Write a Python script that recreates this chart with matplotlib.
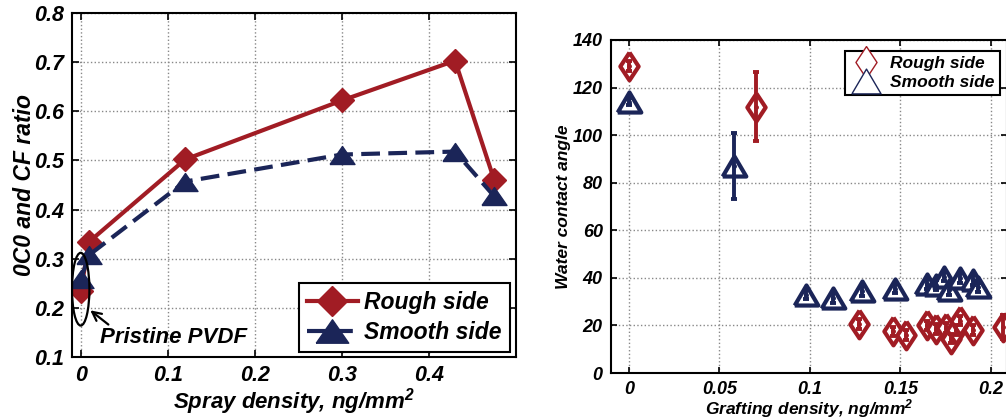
import matplotlib
matplotlib.use("Agg")
import matplotlib.pyplot as plt
from matplotlib.patches import Ellipse
from matplotlib.lines import Line2D
import numpy as np

# ---------------- data ----------------
# Left panel: O/C and C/F ratio vs spray density
spray_x = [0.0, 0.01, 0.12, 0.30, 0.43, 0.475]
rough_ratio = [0.235, 0.335, 0.502, 0.622, 0.703, 0.46]
smooth_x = [0.0, 0.01, 0.12, 0.30, 0.43, 0.475]
smooth_ratio = [0.258, 0.308, 0.457, 0.512, 0.518, 0.427]
left_xticks = [0, 0.1, 0.2, 0.3, 0.4]
left_xticklabels = ["0", "0.1", "0.2", "0.3", "0.4"]
left_yticks = [0.1, 0.2, 0.3, 0.4, 0.5, 0.6, 0.7, 0.8]

# Right panel: water contact angle vs grafting density
rough_gx = [0.0, 0.070, 0.127, 0.146, 0.153, 0.165, 0.170, 0.175, 0.178, 0.181, 0.183, 0.190, 0.207]
rough_wca = [129, 112, 20.5, 17.5, 16, 20, 18.5, 19, 14.5, 18, 22, 18, 19.5]
rough_err = [2, 14.5, 2, 2, 2, 2, 2, 2, 2, 2, 2, 2, 5]
smooth_gx = [0.0, 0.058, 0.098, 0.113, 0.129, 0.147, 0.165, 0.170, 0.174, 0.177, 0.183, 0.190, 0.193]
smooth_wca = [114, 87, 33, 31.5, 34.5, 35.5, 37.5, 37, 40.5, 35, 40, 39, 36]
smooth_err = [1.5, 14, 2, 2, 2, 2, 2, 2, 2, 2, 2, 2, 2]
right_xticks = [0, 0.05, 0.1, 0.15, 0.2]
right_xticklabels = ["0", "0.05", "0.1", "0.15", "0.2"]
right_yticks = [0, 20, 40, 60, 80, 100, 120, 140]

RED = "#a11c24"
NAVY = "#1b2558"
FONT = "Liberation Sans"

plt.rcParams["font.family"] = [FONT, "DejaVu Sans"]
plt.rcParams["font.weight"] = "bold"
plt.rcParams["font.style"] = "italic"
plt.rcParams["axes.labelweight"] = "bold"
plt.rcParams["mathtext.fontset"] = "custom"
plt.rcParams["mathtext.rm"] = "Liberation Sans:bold:italic"
plt.rcParams["mathtext.it"] = "Liberation Sans:bold:italic"
plt.rcParams["mathtext.bf"] = "Liberation Sans:bold:italic"

fig = plt.figure(figsize=(10.06, 4.18), dpi=100)

# ---------------- left panel ----------------
axL = fig.add_axes([72/1006, 1-357/418, (516-72)/1006, (357-13)/418])
tri_wide = [(-1, -0.72), (1, -0.72), (0, 0.72), (-1, -0.72)]

axL.plot(spray_x, rough_ratio, color=RED, lw=3, marker="D", ms=12,
         mfc=RED, mec=RED, zorder=3, label="Rough side")
axL.plot(smooth_x, smooth_ratio, color=NAVY, lw=3, ls=(0, (4.5, 2)),
         marker=tri_wide, ms=18, mfc=NAVY, mec=NAVY, zorder=4, label="Smooth side")

axL.set_xlim(-0.01, 0.5)
axL.set_ylim(0.1, 0.8)
axL.set_xticks(left_xticks)
axL.set_xticklabels(left_xticklabels)
axL.set_yticks(left_yticks)
axL.grid(True, ls=":", color="#888888", lw=1)
axL.tick_params(direction="in", top=True, right=True, length=5, width=1.2,
                labelsize=15.5, pad=6)
for s in axL.spines.values():
    s.set_linewidth(1.5)
axL.set_xlabel(r"Spray density, ng/mm$^{2}$", fontsize=16, labelpad=0)
axL.set_ylabel("0C0 and CF ratio", fontsize=16.5, labelpad=-2)

ell = Ellipse((0.0, 0.238), width=0.02, height=0.148, fill=False,
              ec="black", lw=1.6, zorder=5)
axL.add_patch(ell)
axL.annotate("Pristine PVDF", xy=(0.011, 0.195), xytext=(0.022, 0.139),
             fontsize=16, fontweight="bold", fontstyle="italic",
             ha="left", va="center",
             arrowprops=dict(arrowstyle="->", color="black", lw=1.6,
                             shrinkA=0, shrinkB=0,
                             relpos=(0.1, 0.9)), zorder=6)

legL = axL.legend(loc="lower right", bbox_to_anchor=(510/1006, 1-352/418),
                  bbox_transform=fig.transFigure,
                  prop={"family": FONT, "weight": "bold", "style": "italic", "size": 16.5},
                  markerscale=1.3,
                  handlelength=2.2, handletextpad=0.3, borderpad=0.35,
                  labelspacing=0.3, fancybox=False, framealpha=1,
                  edgecolor="black", borderaxespad=0)
legL.get_frame().set_linewidth(1.5)

# ---------------- right panel ----------------
axR = fig.add_axes([611/1006, 1-373/418, (1007-611)/1006, (373-40)/418])
thin_d = [(0, 1), (0.66, 0), (0, -1), (-0.66, 0), (0, 1)]
tri_r = [(-1, -0.85), (1, -0.85), (0, 0.85), (-1, -0.85)]

axR.plot(smooth_gx, smooth_wca, ls="none", marker=tri_r, ms=17, mfc="white",
         mec=NAVY, mew=3.0, zorder=3, clip_on=False)
axR.errorbar(smooth_gx, smooth_wca, yerr=smooth_err, fmt=".", color=NAVY,
             ms=5, elinewidth=2.8, capsize=2.5, capthick=2.8, zorder=4)
axR.plot(rough_gx, rough_wca, ls="none", marker=thin_d, ms=20, mfc="white",
         mec=RED, mew=3.0, zorder=5, clip_on=False)
axR.errorbar(rough_gx, rough_wca, yerr=rough_err, fmt=".", color=RED,
             ms=5, elinewidth=2.8, capsize=2.5, capthick=2.8, zorder=6)

axR.set_xlim(-0.01, 0.209)
axR.set_ylim(0, 140)
axR.set_xticks(right_xticks)
axR.set_xticklabels(right_xticklabels)
axR.set_yticks(right_yticks)
axR.grid(True, ls=":", color="#888888", lw=1)
axR.tick_params(direction="in", top=True, right=True, length=4, width=1.2,
                labelsize=13, pad=6)
for s in axR.spines.values():
    s.set_linewidth(1.5)
axR.set_xlabel(r"Grafting density, ng/mm$^{2}$", fontsize=12.5, labelpad=-1)
axR.set_ylabel("Water contact angle", fontsize=12.5, labelpad=1)

h_rough = Line2D([], [], ls="none", marker=thin_d, ms=23, mfc="white", mec=RED, mew=1.0)
h_smooth = Line2D([], [], ls="none", marker=tri_r, ms=21, mfc="white", mec=NAVY, mew=1.0)
legR = axR.legend([h_rough, h_smooth], ["Rough side", "Smooth side"],
                  loc="upper right", bbox_to_anchor=(1000/1006, 1-51/418),
                  bbox_transform=fig.transFigure,
                  prop={"family": FONT, "weight": "bold", "style": "italic", "size": 12.5},
                  handlelength=1.8, handletextpad=0.5, borderpad=0.3,
                  labelspacing=0.2, fancybox=False, framealpha=1,
                  edgecolor="black", borderaxespad=0)
legR.get_frame().set_linewidth(1.5)

fig.savefig("out.png", dpi=100)
